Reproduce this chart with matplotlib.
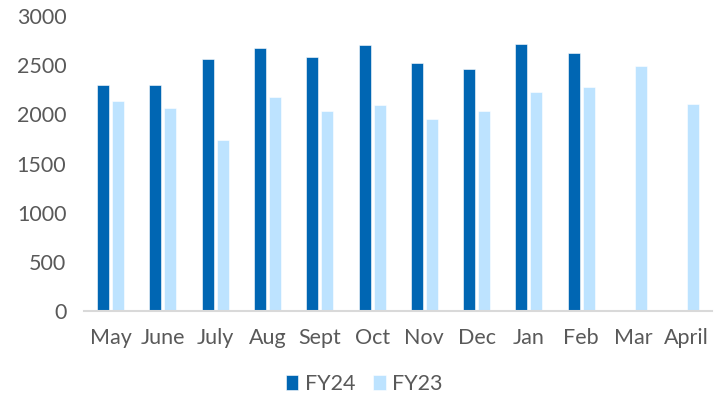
import matplotlib
matplotlib.use("Agg")
import matplotlib.pyplot as plt
import numpy as np

months = ["May", "June", "July", "Aug", "Sept", "Oct", "Nov", "Dec", "Jan", "Feb", "Mar", "April"]
fy24 = [2305, 2303, 2564, 2681, 2589, 2707, 2520, 2459, 2721, 2629, np.nan, np.nan]
fy23 = [2133, 2061, 1738, 2173, 2034, 2099, 1949, 2031, 2228, 2276, 2490, 2102]
yticks = [0, 500, 1000, 1500, 2000, 2500, 3000]

plt.rcParams['font.family'] = ['Lato', 'DejaVu Sans']

fig = plt.figure(figsize=(7.28, 4.05), dpi=100)
ax = fig.add_axes([0.116, 0.232, 0.862, 0.728])

x = np.arange(len(months))
w = 0.23
off = 0.143
ax.bar(x - off, fy24, w, color="#0066B3", label="FY24", edgecolor="white", linewidth=0.4)
ax.bar(x + off, fy23, w, color="#BDE3FF", label="FY23", edgecolor="white", linewidth=0.4)

ax.set_xlim(-0.5, len(months) - 0.5)
ax.set_ylim(0, 3000)
ax.set_yticks(yticks)
ax.set_xticks(x)
ax.set_xticklabels(months)
ax.tick_params(axis='both', length=0, labelsize=15.5, colors="#595959")
ax.tick_params(axis='x', pad=12)
ax.tick_params(axis='y', pad=13)
for s in ["top", "right", "left"]:
    ax.spines[s].set_visible(False)
ax.spines["bottom"].set_color("#D9D9D9")
ax.spines["bottom"].set_linewidth(1.5)

leg = fig.legend(loc="center", bbox_to_anchor=(0.5, 0.052), ncol=2, frameon=False,
                 fontsize=15.5, handlelength=0.6, handleheight=0.7, handletextpad=0.3,
                 columnspacing=0.8)
for t in leg.get_texts():
    t.set_color("#595959")

fig.savefig("out.png", dpi=100)
